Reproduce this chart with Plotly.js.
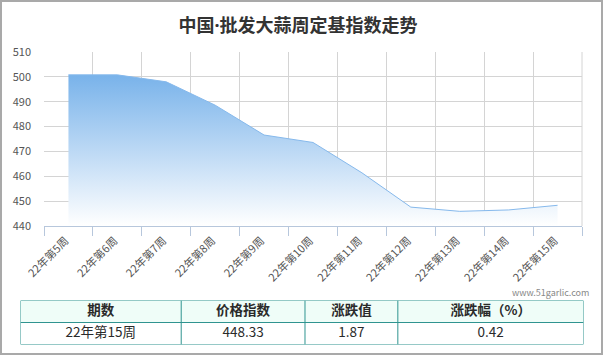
<!DOCTYPE html>
<html>
<head>
<meta charset="utf-8">
<script src="https://cdn.plot.ly/plotly-3.0.1.min.js"></script>
<style>html,body{margin:0;padding:0;background:#fff;}#chart{width:604px;height:356px;}</style>
</head>
<body>
<div id="chart"></div>
<script>
const weeks = ['22年第5周','22年第6周','22年第7周','22年第8周','22年第9周','22年第10周','22年第11周','22年第12周','22年第13周','22年第14周','22年第15周'];
const indexValues = [500.8, 500.8, 498.0, 488.6, 476.6, 473.6, 461.4, 447.6, 445.9, 446.46, 448.33];
const yTicks = [440, 450, 460, 470, 480, 490, 500, 510];
const tableHeaders = ['期数', '价格指数', '涨跌值', '涨跌幅（%）'];
const tableRow = ['22年第15周', '448.33', '1.87', '0.42'];

const W = 604, H = 356;
const px = v => v / W;
const py = v => 1 - v / H;
const FONT = '"Noto Sans CJK SC", "Noto Sans", sans-serif';
const TFONT = '"Noto Sans", "Noto Sans CJK SC", sans-serif';

// table geometry (layout, not data)
const colWidths = [161, 124, 93, 186];
const colEdges = colWidths.reduce((a, w) => a.concat(a[a.length - 1] + w), [0]);
const colCenters = colWidths.map((w, i) => colEdges[i] + w / 2);
const TEAL = '#2f9490';

const area = {
  type: 'scatter', x: weeks, y: indexValues, mode: 'lines',
  line: {color: '#86b9ec', width: 1},
  fill: 'tozeroy',
  fillgradient: {type: 'vertical', start: 440, stop: 501,
    colorscale: [[0, 'rgba(255,255,255,1)'], [1, 'rgb(120,178,234)']]},
  hoverinfo: 'x+y', showlegend: false
};

const headerText = {
  type: 'scatter', mode: 'text', xaxis: 'x2', yaxis: 'y2',
  x: colCenters, y: tableHeaders.map(() => 1.5),
  text: tableHeaders.map(h => '<b>' + h + '</b>'),
  textposition: 'middle center',
  textfont: {family: FONT, size: 13.5, color: '#2a2a2a'},
  showlegend: false, hoverinfo: 'skip'
};
const rowText = {
  type: 'scatter', mode: 'text', xaxis: 'x2', yaxis: 'y2',
  x: colCenters, y: tableRow.map(() => 0.5),
  text: tableRow,
  textposition: 'middle center',
  textfont: {family: FONT, size: 13.5, color: '#2a2a2a'},
  showlegend: false, hoverinfo: 'skip'
};

const shapes = [
  {type: 'line', xref: 'paper', yref: 'paper', x0: px(582), x1: px(582), y0: py(226), y1: py(52), line: {color: '#d4d4d4', width: 1}},
  {type: 'rect', xref: 'x2', yref: 'y2', x0: 0, x1: colEdges[colEdges.length - 1], y0: 1, y1: 2, fillcolor: '#effdf8', line: {width: 0}, layer: 'below'},
  {type: 'line', xref: 'x2', yref: 'y2', x0: 0, x1: colEdges[colEdges.length - 1], y0: 1, y1: 1, line: {color: TEAL, width: 1}},
  {type: 'rect', xref: 'x2', yref: 'y2', x0: 0, x1: colEdges[colEdges.length - 1], y0: 0, y1: 2, line: {color: TEAL, width: 1}},
  {type: 'rect', xref: 'paper', yref: 'paper', x0: px(1), x1: px(602), y0: py(354), y1: py(1), line: {color: '#a9a9a9', width: 2}}
];
colEdges.slice(1, -1).forEach(e => shapes.push({type: 'line', xref: 'x2', yref: 'y2', x0: e, x1: e, y0: 0, y1: 2, line: {color: TEAL, width: 1}}));

const layout = {
  width: W, height: H,
  margin: {l: 0, r: 0, t: 0, b: 0},
  paper_bgcolor: '#fff', plot_bgcolor: 'rgba(0,0,0,0)',
  font: {family: FONT, color: '#444'},
  title: {text: '中国·批发大蒜周定基指数走势', x: px(298), xanchor: 'center', y: py(26), yanchor: 'middle',
    font: {family: TFONT, size: 18, weight: 'bold', color: '#333'}},
  xaxis: {
    domain: [px(44), px(582)], type: 'category', range: [-0.5, 10.5],
    tickson: 'boundaries', showgrid: true, gridcolor: '#d4d4d4', gridwidth: 1,
    showline: true, linecolor: '#b7c7dc', linewidth: 1,
    ticks: 'outside', ticklen: 9, tickcolor: '#b7c7dc',
    tickangle: -45, ticklabelshift: -3, ticklabelstandoff: 3,
    tickfont: {family: FONT, size: 11, color: '#555'},
    automargin: false, fixedrange: true
  },
  yaxis: {
    domain: [py(226), py(52)], range: [440, 510], tickvals: yTicks,
    showgrid: true, gridcolor: '#d4d4d4', gridwidth: 1, zeroline: false,
    showline: false, ticks: '', ticklabelstandoff: 12,
    tickfont: {family: FONT, size: 11, color: '#555'},
    automargin: false, fixedrange: true
  },
  xaxis2: {domain: [px(20.5), px(583.5)], range: [0, colEdges[colEdges.length - 1]], anchor: 'y2', visible: false, fixedrange: true},
  yaxis2: {domain: [py(344.5), py(300.5)], range: [0, 2], anchor: 'x2', visible: false, fixedrange: true},
  shapes: shapes,
  annotations: [
    {text: 'www.51garlic.com', xref: 'paper', yref: 'paper', x: px(591), y: py(292), xanchor: 'right', yanchor: 'middle',
     showarrow: false, font: {family: FONT, size: 9, color: '#888'}}
  ]
};

Plotly.newPlot('chart', [area, headerText, rowText], layout, {displayModeBar: false, staticPlot: true});
</script>
</body>
</html>
